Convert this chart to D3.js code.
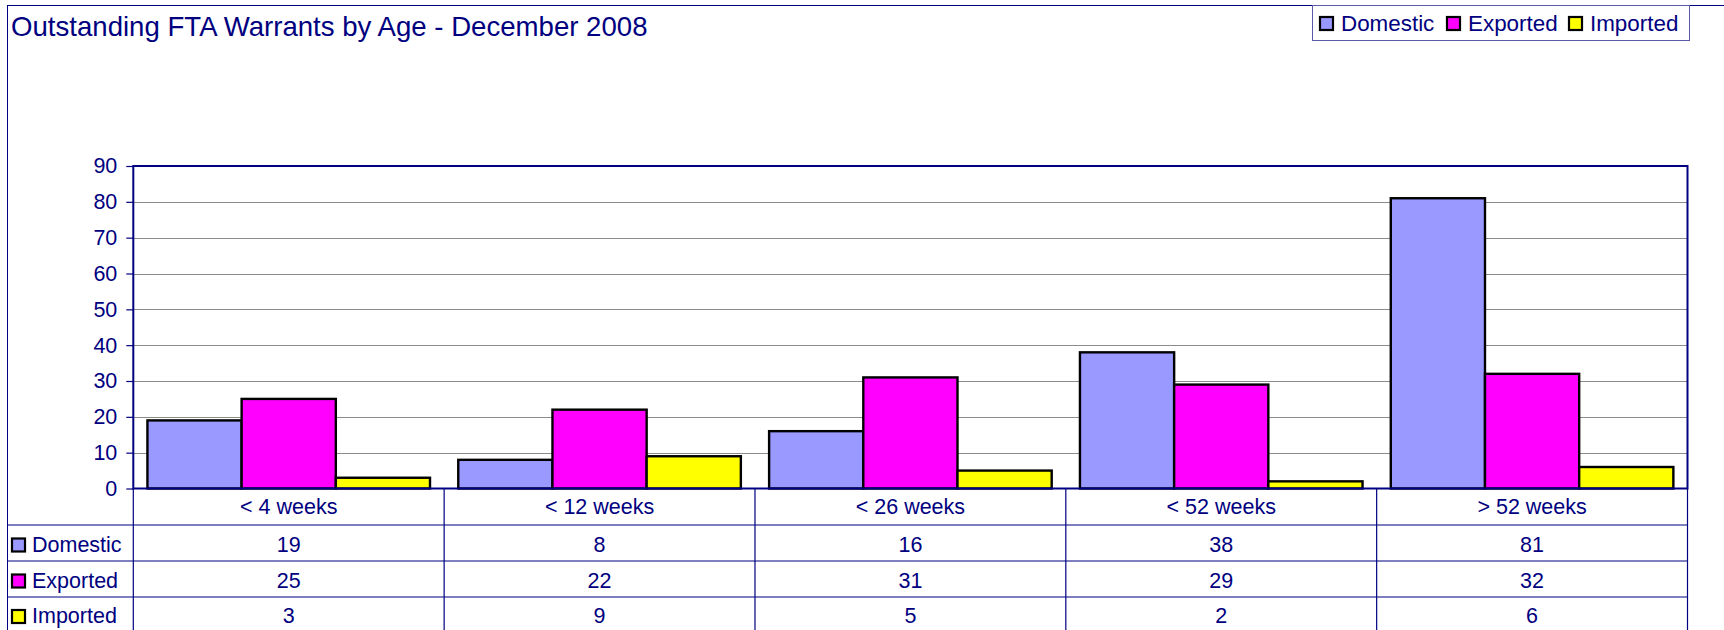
<!DOCTYPE html>
<html>
<head>
<meta charset="utf-8">
<script src="https://cdn.jsdelivr.net/npm/d3@7"></script>
<style>
  body { margin: 0; background: #fff; }
  text { font-family: "Liberation Sans", Arial, sans-serif; fill: #000080; }
</style>
</head>
<body>
<div id="chart"></div>
<script>
const categories = ["< 4 weeks", "< 12 weeks", "< 26 weeks", "< 52 weeks", "> 52 weeks"];
const seriesNames = ["Domestic", "Exported", "Imported"];
const domestic = [19, 8, 16, 38, 81];
const exported = [25, 22, 31, 29, 32];
const imported = [3, 9, 5, 2, 6];
const yTicks = [0, 10, 20, 30, 40, 50, 60, 70, 80, 90];

const seriesValues = [domestic, exported, imported];
const colors = ["#9999ff", "#ff00ff", "#ffff00"];
const navy = "#000080";

const W = 1724, H = 630;
const plot = {left: 133.3, right: 1687.5, top: 166, bottom: 488.5};
const rowY = [488.5, 525, 561, 597, 640];

const svg = d3.select("#chart").append("svg")
    .attr("width", W)
    .attr("height", H);

// outer frame
svg.append("rect")
    .attr("x", 7.5).attr("y", 5.5)
    .attr("width", W).attr("height", H)
    .attr("fill", "none")
    .attr("stroke", navy)
    .attr("stroke-width", 1);

svg.append("text")
    .attr("x", 11).attr("y", 36)
    .style("font-size", "27.6px")
    .text("Outstanding FTA Warrants by Age - December 2008");

// legend
const legend = svg.append("g");
legend.append("rect")
    .attr("x", 1312.5).attr("y", 5.5)
    .attr("width", 377).attr("height", 35)
    .attr("fill", "#fff")
    .attr("stroke", "#5a5aa8")
    .attr("stroke-width", 1);
const legendX = [1320, 1447, 1569];
seriesNames.forEach((name, i) => {
  legend.append("rect")
      .attr("x", legendX[i]).attr("y", 17)
      .attr("width", 13).attr("height", 13)
      .attr("fill", colors[i])
      .attr("stroke", "#000")
      .attr("stroke-width", 2.2);
  legend.append("text")
      .attr("x", legendX[i] + 21).attr("y", 31)
      .style("font-size", "22.4px")
      .text(name);
});

const x = d3.scaleBand()
    .domain(categories)
    .range([plot.left, plot.right])
    .paddingInner(0).paddingOuter(0);

const xs = d3.scaleBand()
    .domain(seriesNames)
    .range([0, x.bandwidth()])
    .paddingInner(0).paddingOuter(0.15);

const y = d3.scaleLinear()
    .domain([0, 90])
    .range([plot.bottom, plot.top]);

// gridlines
svg.append("g")
  .selectAll("line")
  .data(yTicks.filter(d => d > 0 && d < 90))
  .enter().append("line")
    .attr("x1", plot.left).attr("x2", plot.right)
    .attr("y1", d => Math.round(y(d)) + 0.5)
    .attr("y2", d => Math.round(y(d)) + 0.5)
    .attr("stroke", "#8c8c8c")
    .attr("stroke-width", 1.2);

// bars
const groups = svg.append("g")
  .selectAll("g")
  .data(seriesNames)
  .enter().append("g");

groups.selectAll("rect")
  .data((s, i) => categories.map((c, j) => ({s: s, i: i, c: c, v: seriesValues[i][j]})))
  .enter().append("rect")
    .attr("x", d => x(d.c) + xs(d.s))
    .attr("y", d => y(d.v))
    .attr("width", xs.bandwidth())
    .attr("height", d => y(0) - y(d.v))
    .attr("fill", d => colors[d.i])
    .attr("stroke", "#000")
    .attr("stroke-width", 2.4);

// plot frame
svg.append("rect")
    .attr("x", plot.left).attr("y", plot.top)
    .attr("width", plot.right - plot.left)
    .attr("height", plot.bottom - plot.top)
    .attr("fill", "none")
    .attr("stroke", navy)
    .attr("stroke-width", 2);

// y axis
const yAxis = svg.append("g")
    .attr("transform", `translate(${plot.left},0)`)
    .call(d3.axisLeft(y).tickValues(yTicks).tickSize(7).tickPadding(9));
yAxis.select(".domain").remove();
yAxis.selectAll("line").attr("stroke", navy).attr("stroke-width", 1.2);
yAxis.selectAll("text")
    .style("font-size", "21.5px")
    .style("font-family", "Liberation Sans, Arial, sans-serif")
    .attr("fill", navy);

// data table
const table = svg.append("g");
x.domain().concat([null]).forEach((c, j) => {
  const xx = c === null ? plot.right : x(c);
  table.append("line")
      .attr("x1", xx).attr("x2", xx)
      .attr("y1", plot.bottom).attr("y2", H)
      .attr("stroke", navy).attr("stroke-width", 1.2);
});
rowY.slice(1, 4).forEach(yy => {
  table.append("line")
      .attr("x1", 7.5).attr("x2", plot.right)
      .attr("y1", yy).attr("y2", yy)
      .attr("stroke", navy).attr("stroke-width", 1.2);
});

table.selectAll("text.cat")
  .data(categories)
  .enter().append("text")
    .attr("class", "cat")
    .attr("x", d => x(d) + x.bandwidth() / 2)
    .attr("y", 514)
    .attr("text-anchor", "middle")
    .style("font-size", "21.5px")
    .text(d => d);

const rowBase = [551.5, 587.5, 623];
seriesNames.forEach((name, i) => {
  table.append("rect")
      .attr("x", 12).attr("y", rowBase[i] - 13)
      .attr("width", 13).attr("height", 13)
      .attr("fill", colors[i])
      .attr("stroke", "#000")
      .attr("stroke-width", 2.2);
  table.append("text")
      .attr("x", 32).attr("y", rowBase[i])
      .style("font-size", "21.5px")
      .text(name);
  table.selectAll("text.v" + i)
    .data(seriesValues[i])
    .enter().append("text")
      .attr("class", "v" + i)
      .attr("x", (d, j) => x(categories[j]) + x.bandwidth() / 2)
      .attr("y", rowBase[i])
      .attr("text-anchor", "middle")
      .style("font-size", "21.5px")
      .text(d => d);
});
</script>
</body>
</html>
